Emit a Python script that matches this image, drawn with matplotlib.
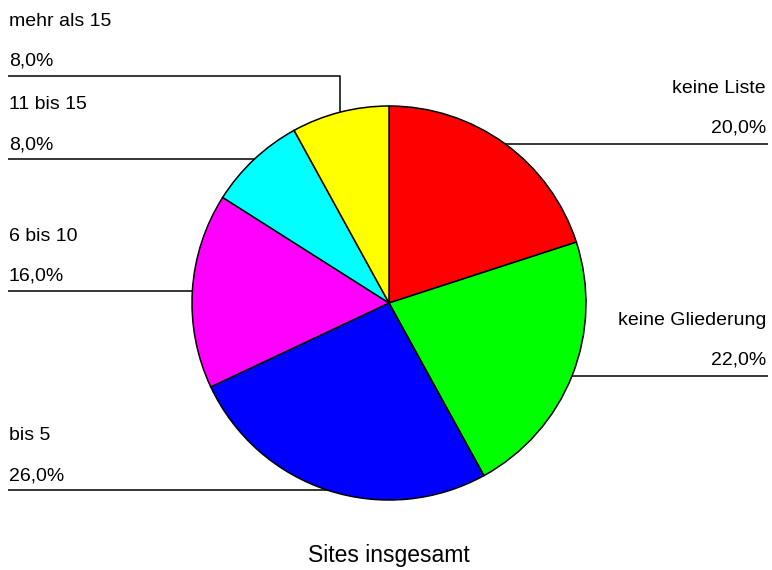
"""
Pie chart 'Sites insgesamt' with leader-line labels
"""

import matplotlib
matplotlib.use('Agg')  # no display

import matplotlib.pyplot as plt
import numpy as np

# chart data
categories = ['keine Liste', 'keine Gliederung', 'bis 5', '6 bis 10', '11 bis 15', 'mehr als 15']
shares = [20.0, 22.0, 26.0, 16.0, 8.0, 8.0]
colors = ['#ff0000', '#00ff00', '#0000ff', '#ff00ff', '#00ffff', '#ffff00']
title = 'Sites insgesamt'

plt.rcParams['font.family'] = ['Liberation Sans', 'DejaVu Sans']

W, H = 772, 570
fig = plt.figure(figsize=(W / 100, H / 100), dpi=100)
ax = fig.add_axes([0, 0, 1, 1])
ax.set_xlim(0, W)
ax.set_ylim(0, H)
ax.set_aspect('equal')
ax.axis('off')

# pie geometry (pixel-like data coords, y upward)
cx, cy, r = 389, H - 303, 197
wedges, _ = ax.pie(shares, colors=colors, startangle=90, counterclock=False,
                   center=(cx, cy), radius=r,
                   wedgeprops=dict(edgecolor='black', linewidth=1.1))
ax.set_xlim(0, W)
ax.set_ylim(0, H)

left_x, right_x = 8, 768
fs = 14
line_kw = dict(color='black', linewidth=1.1, solid_capstyle='butt')

for wedge, name, val in zip(wedges, categories, shares):
    mid = np.deg2rad((wedge.theta1 + wedge.theta2) / 2)
    ax_x = cx + r * np.cos(mid)
    ax_y = cy + r * np.sin(mid)
    pct = f'{val:.1f}%'.replace('.', ',')
    if np.cos(mid) >= 0:
        # right side labels
        ax.plot([ax_x, right_x], [ax_y, ax_y], **line_kw)
        ax.text(right_x - 2, ax_y + 11, pct, ha='right', va='baseline', fontsize=fs)
        ax.text(right_x - 2, ax_y + 51, name, ha='right', va='baseline', fontsize=fs)
    else:
        ly = ax_y
        if name == 'mehr als 15':
            # elbow upward to clear the neighbour label
            ly = H - 76
            ax.plot([ax_x, ax_x, left_x], [ax_y, ly, ly], **line_kw)
        else:
            ax.plot([ax_x, left_x], [ax_y, ax_y], **line_kw)
        ax.text(left_x + 1, ly + 10, pct, ha='left', va='baseline', fontsize=fs)
        ax.text(left_x + 1, ly + 50, name, ha='left', va='baseline', fontsize=fs)

ax.text(cx, H - 562, title, ha='center', va='baseline', fontsize=16.5)

fig.savefig('out.png', dpi=100)
